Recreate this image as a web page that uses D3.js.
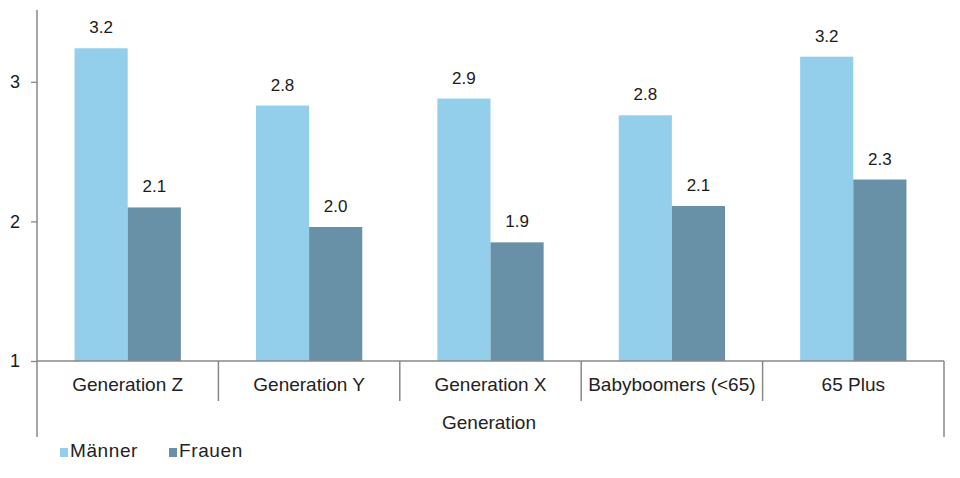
<!DOCTYPE html>
<html><head><meta charset="utf-8">
<script src="https://cdn.jsdelivr.net/npm/d3@7"></script>
<style>body{margin:0;background:#fff;} text{font-family:"Liberation Sans",Arial,sans-serif;}</style>
</head><body><svg id="c" width="960" height="478"></svg>
<script>
const categories = ["Generation Z","Generation Y","Generation X","Babyboomers (<65)","65 Plus"];
const seriesNames = ["Männer","Frauen"];
const maenner = [3.24, 2.83, 2.88, 2.76, 3.18];
const frauen = [2.10, 1.96, 1.85, 2.11, 2.30];
const maennerLabels = ["3.2","2.8","2.9","2.8","3.2"];
const frauenLabels = ["2.1","2.0","1.9","2.1","2.3"];
const yTicks = [1,2,3];
const colors = ["#93cfeb","#6891a7"];

(function(){
const svg = d3.select("#c");
const mLeft = 37, mRight = 944, mTop = 12, mBottom = 361;
const x0 = d3.scaleBand().domain(categories).range([mLeft, mRight]).padding(0);
const x1 = d3.scaleBand().domain(seriesNames).range([x0.bandwidth()*0.207, x0.bandwidth()*0.793]).padding(0);
const y = d3.scaleLinear().domain([1,3.5]).range([mBottom, mTop]);

const data = categories.map((c,i)=>({cat:c, vals:[
  {s:"Männer", v:maenner[i], l:maennerLabels[i]},
  {s:"Frauen", v:frauen[i], l:frauenLabels[i]}]}));

const g = svg.selectAll("g.cat").data(data).enter().append("g")
  .attr("transform", d=>`translate(${x0(d.cat)},0)`);
g.selectAll("rect").data(d=>d.vals).enter().append("rect")
  .attr("x", d=>x1(d.s)).attr("width", x1.bandwidth())
  .attr("y", d=>y(d.v)).attr("height", d=>mBottom - y(d.v))
  .attr("fill", (d,i)=>colors[i]);
g.selectAll("text.val").data(d=>d.vals).enter().append("text")
  .attr("class","val")
  .attr("x", d=>x1(d.s)+x1.bandwidth()/2).attr("y", d=>y(d.v)-15)
  .attr("text-anchor","middle").attr("font-size",17).attr("fill","#1a1a1a")
  .text(d=>d.l);

const yAxis = d3.axisLeft(y).tickValues(yTicks).tickSize(6).tickPadding(11).tickFormat(d3.format("d"));
const ya = svg.append("g").attr("transform",`translate(${mLeft},0)`).call(yAxis);
ya.select(".domain").remove();
ya.selectAll("line").attr("stroke","#888").attr("stroke-width",1.3);
ya.selectAll("text").attr("font-size",18).attr("fill","#1a1a1a").attr("font-family","Liberation Sans, Arial, sans-serif");
svg.append("line").attr("x1",mLeft).attr("x2",mLeft).attr("y1",mTop-2).attr("y2",437).attr("stroke","#888").attr("stroke-width",1.5);
svg.append("line").attr("x1",mRight).attr("x2",mRight).attr("y1",mBottom).attr("y2",437).attr("stroke","#888").attr("stroke-width",1.5);
svg.append("line").attr("x1",mLeft).attr("x2",mRight).attr("y1",mBottom).attr("y2",mBottom).attr("stroke","#888").attr("stroke-width",1.5);

categories.slice(1).forEach(c=>{
  svg.append("line").attr("x1",x0(c)).attr("x2",x0(c)).attr("y1",mBottom).attr("y2",401)
    .attr("stroke","#888").attr("stroke-width",1.5);
});
svg.append("g").selectAll("text").data(categories).enter().append("text")
  .attr("x", d=>x0(d)+x0.bandwidth()/2).attr("y",391)
  .attr("text-anchor","middle").attr("font-size",19).attr("fill","#222")
  .text(d=>d);
svg.append("text").attr("x",489).attr("y",429).attr("text-anchor","middle")
  .attr("font-size",19).attr("fill","#222").text("Generation");

const lx = [60, 169];
seriesNames.forEach((s,i)=>{
  svg.append("rect").attr("x",lx[i]).attr("y",448).attr("width",8).attr("height",9).attr("fill",colors[i]);
  svg.append("text").attr("x",lx[i]+10).attr("y",457).attr("font-size",19).attr("letter-spacing","0.6").attr("fill","#222").text(s);
});
})();
</script></body></html>
